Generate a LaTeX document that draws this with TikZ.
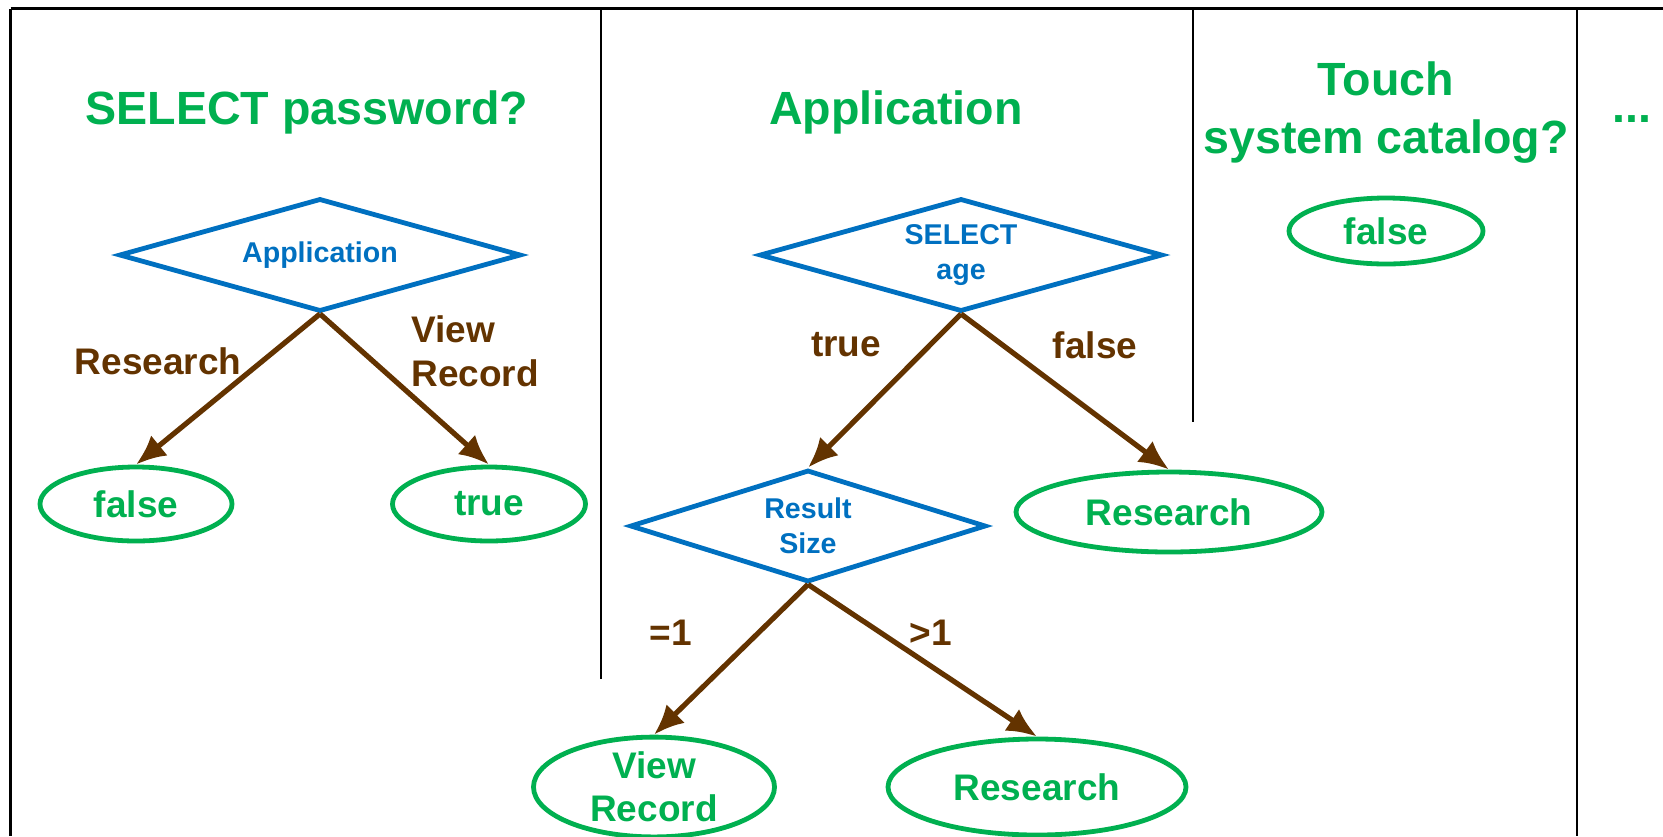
\documentclass[tikz,border=0pt]{standalone}
\usepackage{fontspec}
\setmainfont{Liberation Sans}
\usepackage{tikz}
\usetikzlibrary{arrows.meta,shapes.geometric}
\tikzset{>={Latex[length=15pt,width=13pt]}}
\definecolor{hdgreen}{RGB}{0,176,80}
\definecolor{qblue}{RGB}{0,112,192}
\definecolor{edgebrown}{RGB}{99,51,0}

\begin{document}
\begin{tikzpicture}[x=0.5pt,y=-0.5pt,
  title/.style={text=hdgreen,font=\fontsize{23.3}{29}\selectfont\bfseries,align=center},
  decision/.style={diamond,aspect=3.6,draw=qblue,line width=2.4pt,text=qblue,inner sep=0pt,
    font=\fontsize{14.3}{17.5}\selectfont\bfseries,align=center},
  leaf/.style={ellipse,draw=hdgreen,line width=2.4pt,text=hdgreen,inner sep=0pt,
    font=\fontsize{18.5}{21.7}\selectfont\bfseries,align=center},
  cond/.style={text=edgebrown,font=\fontsize{18.5}{22}\selectfont\bfseries,inner sep=0pt},
  branch/.style={->,draw=edgebrown,line width=2.6pt},
  frame/.style={draw=black,line width=1.2pt}]

  \useasboundingbox (0,0) rectangle (1663,836);

  %% frame and columns
  \draw[frame] (10.6,8.5) -- (1663,8.5);
  \draw[frame] (10.6,8.5) -- (10.6,836);
  \draw[frame] (601,8.5) -- (601,679);
  \draw[frame] (1193,8.5) -- (1193,422);
  \draw[frame] (1577,8.5) -- (1577,836);

  %% headings
  \node[title] (hpwd) at (307,112) {SELECT password?};
  \node[title] (happ) at (896,112) {Application};
  \node[title] (hcat) at (1386,113) {Touch\\system catalog?};
  \node[title,inner sep=0pt] (hmore) at (1632,119) {...};

  %% column 1
  \node[decision,minimum width=201pt,minimum height=56.5pt] (app) at (320,255) {Application};
  \node[leaf,minimum width=96pt,minimum height=37pt] (pfalse) at (136,504) {false};
  \node[leaf,minimum width=96.5pt,minimum height=37pt] (ptrue) at (489,504) {true};
  \draw[branch] (app.south) -- (pfalse.north); % Research
  \draw[branch] (app.south) -- (ptrue.north); % View Record
  \node[cond,anchor=east] (lres) at (242,361) {Research};
  \node[cond,anchor=west,align=left] (lview) at (411,351) {View\\Record};

  %% column 2
  \node[decision,minimum width=201.5pt,minimum height=56.5pt] (age) at (961,255) {SELECT\\age};
  \node[decision,minimum width=178pt,minimum height=56pt] (size) at (808,526) {Result\\Size};
  \node[leaf,minimum width=153pt,minimum height=40pt] (ares) at (1169,512) {Research};
  \node[leaf,minimum width=120.5pt,minimum height=48pt] (sview) at (654,787) {View\\Record};
  \node[leaf,minimum width=149pt,minimum height=48pt] (sres) at (1037,787) {Research};
  \draw[branch] (age.south) -- (size.north); % true
  \draw[branch] (age.south) -- (ares.north); % false
  \draw[branch] (size.south) -- (sview.north); % =1
  \draw[branch] (size.south) -- (sres.north); % >1
  \node[cond] (ltrue) at (846,345) {true};
  \node[cond] (lfalse) at (1095,345) {false};
  \node[cond] (lone) at (671,633) {=1};
  \node[cond] (lmany) at (931,633) {>1};

  %% column 3
  \node[leaf,minimum width=97pt,minimum height=33pt] (cfalse) at (1386,231) {false};

\end{tikzpicture}
\end{document}
